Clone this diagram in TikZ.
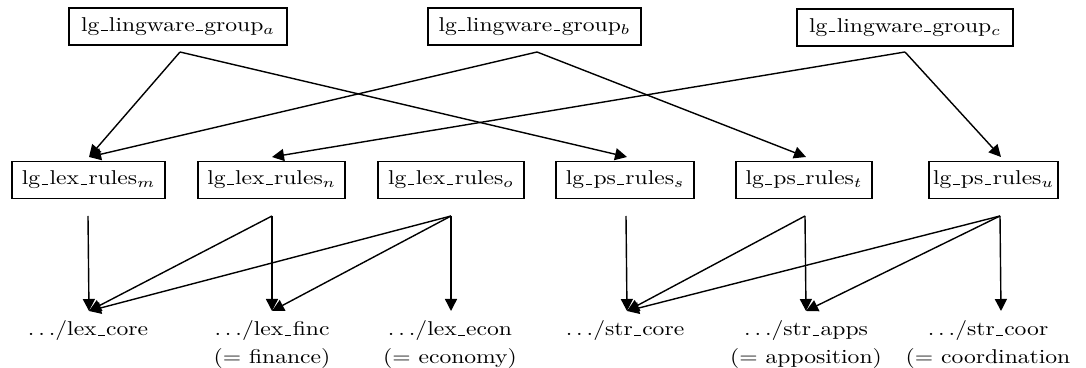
\documentclass[tikz,border=0pt]{standalone}
\usepackage{graphicx}
\usetikzlibrary{arrows.meta}
% short rule underscore, as in plain Computer Modern
\newcommand\usc{\leavevmode\kern.06em\vbox{\hrule width.28em height .45pt}\kern.06em}
% text set a little wider than the font's own width
\newcommand\sx[1]{\scalebox{1.18}[1]{#1}}
\begin{document}
\begin{tikzpicture}[x=0.5pt,y=-0.5pt,
  font=\fontsize{10}{14}\selectfont,
  box/.style={draw, line width=0.7pt, minimum height=18.5pt, inner xsep=2pt, inner ysep=0pt},
  lbl/.style={align=center, inner sep=0pt, anchor=north},
  link/.style={line width=0.7pt, -{Triangle[length=6pt,width=6pt]}}]
\useasboundingbox (0,0) rectangle (1086,368);

% lingware groups
\node[box, minimum width=109pt]   (ga) at (178,26.5) {\sx{lg\usc lingware\usc group$_a$}};
\node[box, minimum width=106.5pt] (gb) at (534.5,26.5) {\sx{lg\usc lingware\usc group$_b$}};
\node[box, minimum width=108pt]   (gc) at (905,27.5) {\sx{lg\usc lingware\usc group$_c$}};

% rule sets
\node[box, minimum width=76.5pt] (m) at (88.5,180)  {\sx{lg\usc lex\usc rules$_m$}};
\node[box, minimum width=73.5pt] (n) at (271.5,180) {\sx{lg\usc lex\usc rules$_n$}};
\node[box, minimum width=73pt]   (o) at (451,180)   {\sx{lg\usc lex\usc rules$_o$}};
\node[box, minimum width=69pt]   (s) at (625,180)   {\sx{lg\usc ps\usc rules$_s$}};
\node[box, minimum width=68pt]   (t) at (804,180)   {\sx{lg\usc ps\usc rules$_t$}};
\node[box, minimum width=64.5pt] (u) at (993.5,180) {\sx{lg\usc ps\usc rules$_u$}};

% files
\node[lbl] (lcore) at (88,320)  {\sx{$\ldots$/lex\usc core}};
\node[lbl] (lfinc) at (272,320) {\sx{$\ldots$/lex\usc finc}\\\sx{(= finance)}};
\node[lbl] (lecon) at (450,320) {\sx{$\ldots$/lex\usc econ}\\\sx{(= economy)}};
\node[lbl] (score) at (625,320) {\sx{$\ldots$/str\usc core}};
\node[lbl] (sapps) at (806,320) {\sx{$\ldots$/str\usc apps}\\\sx{(= apposition)}};
\node[lbl] (scoor) at (988,320) {\sx{$\ldots$/str\usc coor}\\\sx{(= coordination}};

% connector end points
\coordinate (ga-out) at (180,52);
\coordinate (gb-out) at (537,52);
\coordinate (gc-out) at (905,52);
\coordinate (m-in) at (89,157);
\coordinate (n-in) at (272,157);
\coordinate (s-in) at (627,157);
\coordinate (t-in) at (806,157);
\coordinate (u-in) at (1001,157);
\coordinate (m-out) at (88,216);
\coordinate (n-out) at (272,216);
\coordinate (o-out) at (451,216);
\coordinate (s-out) at (626,216);
\coordinate (t-out) at (805,216);
\coordinate (u-out) at (1000,216);
\coordinate (lcore-in) at (89,311);
\coordinate (lfinc-in) at (272,311);
\coordinate (lecon-in) at (451,311);
\coordinate (score-in) at (627,311);
\coordinate (sapps-in) at (806,311);
\coordinate (scoor-in) at (1001,311);

% groups to rule sets
\draw[link] (ga-out) -- (m-in);
\draw[link] (ga-out) -- (s-in);
\draw[link] (gb-out) -- (m-in);
\draw[link] (gb-out) -- (t-in);
\draw[link] (gc-out) -- (n-in);
\draw[link] (gc-out) -- (u-in);

% rule sets to files
\draw[link] (m-out) -- (lcore-in);
\draw[link] (n-out) -- (lcore-in);
\draw[link] (n-out) -- (lfinc-in);
\draw[link] (o-out) -- (lcore-in);
\draw[link] (o-out) -- (lfinc-in);
\draw[link] (o-out) -- (lecon-in);
\draw[link] (s-out) -- (score-in);
\draw[link] (t-out) -- (score-in);
\draw[link] (t-out) -- (sapps-in);
\draw[link] (u-out) -- (score-in);
\draw[link] (u-out) -- (sapps-in);
\draw[link] (u-out) -- (scoor-in);
\end{tikzpicture}
\end{document}
